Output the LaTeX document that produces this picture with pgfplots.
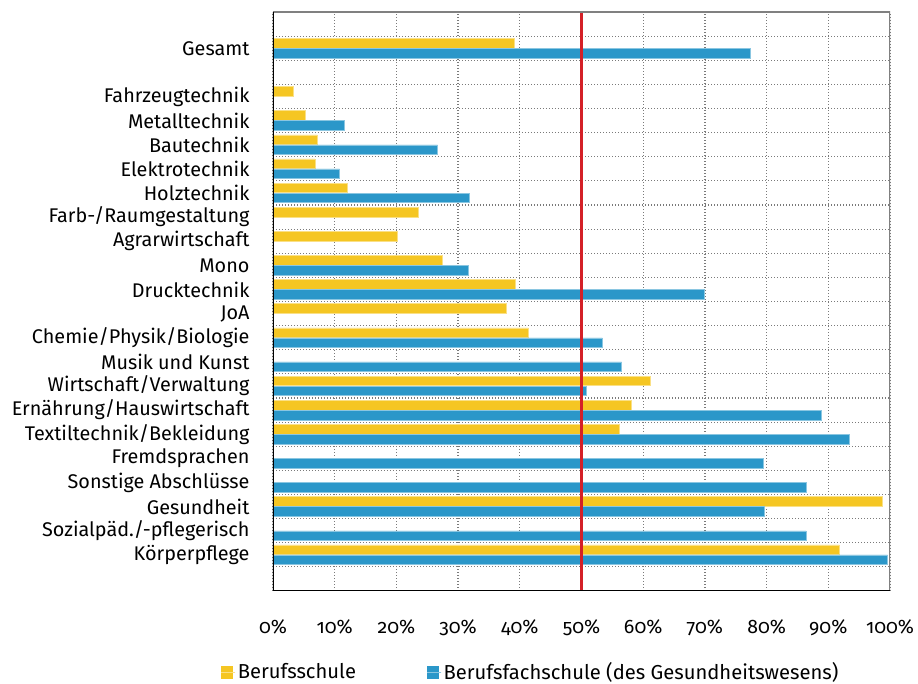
\documentclass[border=0pt]{standalone}
\usepackage{fontspec}
\setmainfont{Fira Sans}[Numbers=OldStyle]
\usepackage{pgfplots}
\pgfplotsset{compat=1.18}
\definecolor{gelb}{HTML}{F5C623}
\definecolor{blau}{HTML}{2B97C9}
\definecolor{rot}{HTML}{D42027}
\definecolor{gridgray}{HTML}{7A7A7A}
\begin{document}
\begin{tikzpicture}[font=\fontsize{19.5pt}{22pt}\selectfont]
\path[use as bounding box] (-273pt,-93pt) rectangle (645pt,591pt);
\begin{axis}[
  scale only axis, width=617pt, height=579pt,
  at={(0pt,0pt)}, anchor=south west,
  xmin=0, xmax=100, ymin=-1.5, ymax=22.5,
  xbar, bar width=9.7pt,
  axis line style={draw=none},
  major tick length=0pt, minor tick length=0pt,
  /pgf/number format/assume math mode=true,
  xtick={0,10,...,100},
  xticklabel={\pgfmathprintnumber{\tick}\%},
  xticklabel style={yshift=-25pt, font=\fontsize{19.5pt}{22pt}\selectfont},
  ytick={0,1,...,19,21},
  yticklabels={Körperpflege,Sozialpäd./-pflegerisch,Gesundheit,Sonstige Abschlüsse,Fremdsprachen,Textiltechnik/Bekleidung,Ernährung/Hauswirtschaft,Wirtschaft/Verwaltung,Musik und Kunst,Chemie/Physik/Biologie,JoA,Drucktechnik,Mono,Agrarwirtschaft,Farb-/Raumgestaltung,Holztechnik,Elektrotechnik,Bautechnik,Metalltechnik,Fahrzeugtechnik,Gesamt},
  yticklabel style={xshift=-20pt, font=\fontsize{19.8pt}{22pt}\selectfont},
  minor ytick={-0.5,0.5,...,21.5},
  xmajorgrids, yminorgrids, ymajorgrids=false,
  major grid style={gridgray, line width=1.2pt, dash pattern=on 1.2pt off 1.8pt},
  minor grid style={gridgray, line width=1.2pt, dash pattern=on 1.2pt off 1.8pt},
  legend columns=2,
  legend style={at={(-0.0892,-0.14)}, anchor=west, draw=none, fill=none,
    font=\fontsize{20.2pt}{22pt}\selectfont,
    /tikz/every even column/.append style={column sep=69pt}},
]
\addplot[fill=gelb, draw=gelb!55!white, line width=0.6pt, bar shift=5pt,
  legend image code/.code={\fill[gelb] (0pt,-6pt) rectangle (11pt,6pt); \path (0pt,0pt) -- (14pt,0pt);}]
  coordinates {(39.1,21) (3.35,19) (5.2,18) (7.2,17) (6.8,16) (12.0,15) (23.5,14) (20.1,13) (27.5,12) (39.3,11) (37.8,10) (41.4,9) (61.1,7) (58.1,6) (56.1,5) (98.8,2) (91.8,0)};
\addlegendentry{Berufsschule}
\addplot[fill=blau, draw=blau!55!white, line width=0.6pt, bar shift=-5pt,
  legend image code/.code={\fill[blau] (0pt,-6pt) rectangle (11pt,6pt); \path (0pt,0pt) -- (14pt,0pt);}]
  coordinates {(77.3,21) (11.6,18) (26.7,17) (10.8,16) (31.8,15) (31.6,12) (69.9,11) (53.4,9) (56.5,8) (50.8,7) (88.9,6) (93.4,5) (79.5,4) (86.4,3) (79.6,2) (86.4,1) (99.6,0)};
\addlegendentry{Berufsfachschule (des Gesundheitswesens)}
\draw[rot, line width=2.6pt] (axis cs:50,-1.5) -- (axis cs:50,22.5);
\draw[gray, line width=1.6pt] (rel axis cs:0,1) -- (rel axis cs:1,1) -- (rel axis cs:1,0);
\draw[black, line width=1.6pt] (rel axis cs:1,0) -- (rel axis cs:0,0) -- (rel axis cs:0,1);
\end{axis}
\end{tikzpicture}
\end{document}
